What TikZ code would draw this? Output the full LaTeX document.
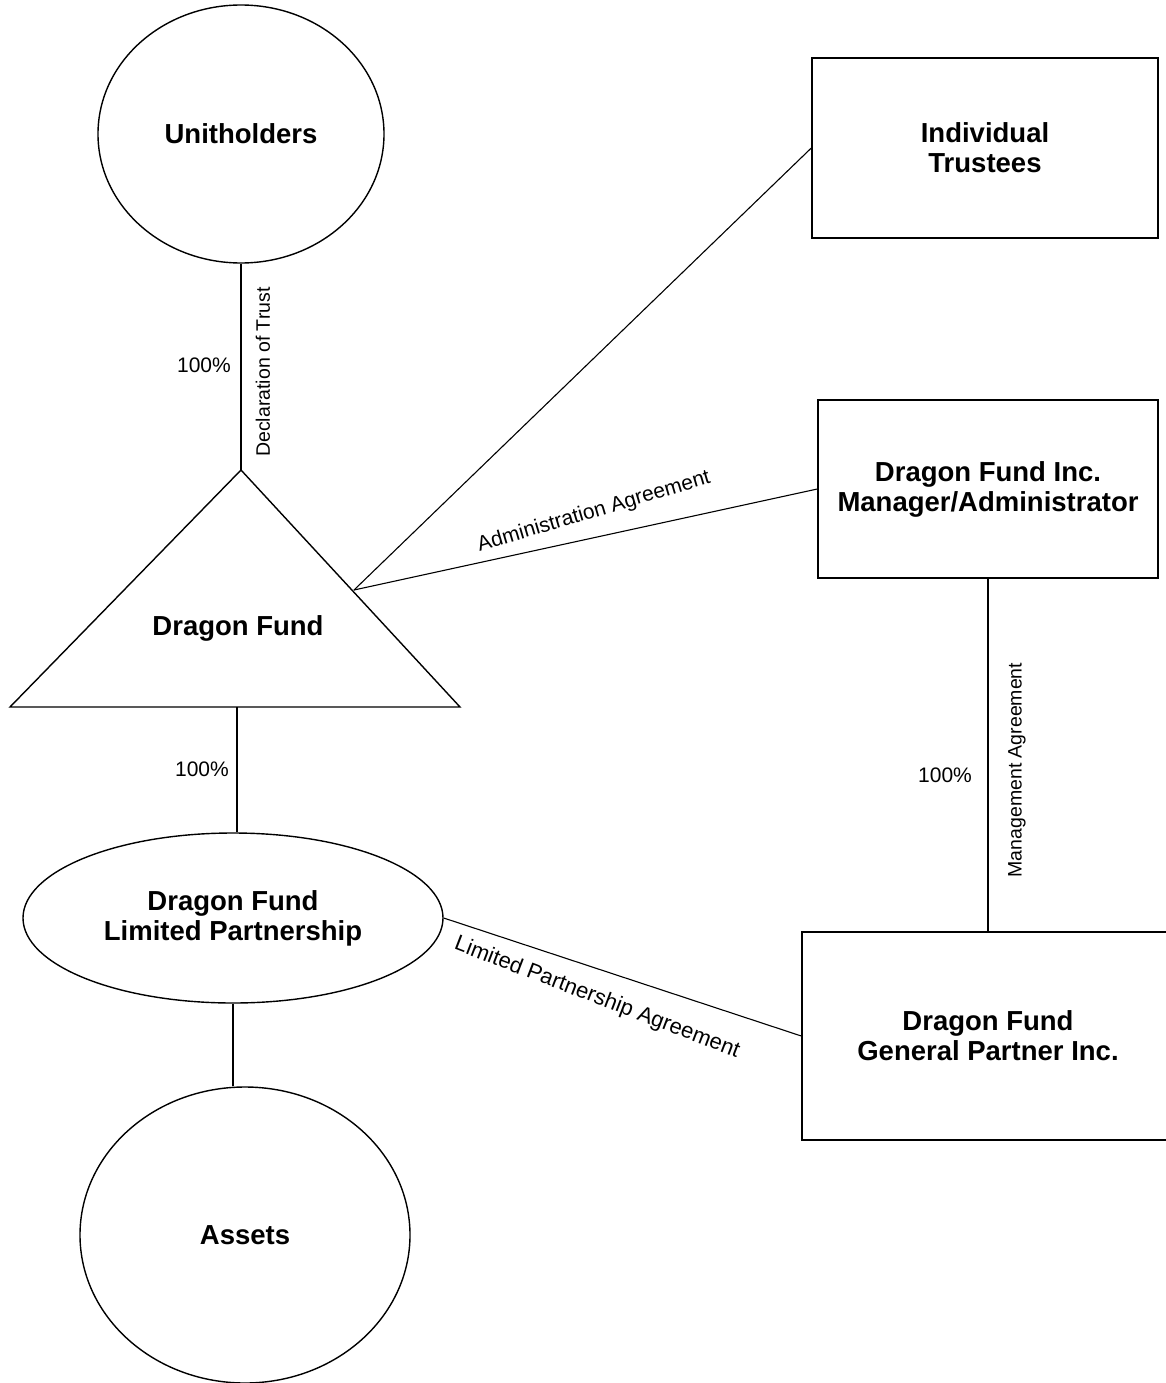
\documentclass[tikz,border=0pt]{standalone}
\usepackage{fontspec}
\setmainfont{Liberation Sans}
\usetikzlibrary{shapes.geometric}
\begin{document}
\begin{tikzpicture}[x=1pt,y=1pt,
  entity/.style={draw,line width=1.4pt,align=center,font=\fontsize{27.5}{30}\selectfont\bfseries},
  boxnode/.style={entity,rectangle,inner sep=0pt},
  ovalnode/.style={entity,ellipse,inner sep=0pt},
  conn/.style={line width=1.1pt},
  lbl/.style={font=\fontsize{21}{24}\selectfont,inner sep=0pt},
  vlbl/.style={font=\fontsize{19.5}{22}\selectfont,inner sep=0pt,rotate=90}]
\useasboundingbox (0,0) rectangle (1165,-1383);
% nodes
\node[ovalnode,minimum width=286,minimum height=258] (U) at (241,-134) {Unitholders};
\node[boxnode,minimum width=346,minimum height=180] (T) at (985,-148) {Individual\\Trustees};
\node[boxnode,minimum width=340,minimum height=178] (M) at (988,-489) {Dragon Fund Inc.\\Manager/Administrator};
\coordinate (apex) at (241,-470);
\coordinate (bl) at (10,-707);
\coordinate (br) at (460,-707);
\draw[line width=1.4pt] (apex) -- (br) -- (bl) -- cycle;
\node[font=\fontsize{27.5}{30}\selectfont\bfseries] (F) at (238,-628) {Dragon Fund};
\coordinate (tri) at (354,-590);
\coordinate (tribase) at (237,-707);
\node[ovalnode,minimum width=420,minimum height=170] (LP) at (233,-918) {Dragon Fund\\Limited Partnership};
\node[ovalnode,minimum width=330,minimum height=296] (A) at (245,-1235) {Assets};
\node[boxnode,minimum width=372,minimum height=208] (GP) at (988,-1036) {Dragon Fund\\General Partner Inc.};
% connectors
\draw[conn] (U.south) -- (apex);
\draw[conn] (tri) -- (T.west);
\draw[conn] (tri) -- (M.west);
\draw[conn] (tribase) -- (tribase |- LP.north);
\draw[conn] (LP.south) -- (LP.south |- A.north);
\draw[conn] (LP.east) -- (GP.west);
\draw[conn] (M.south) -- (M.south |- GP.north);
% labels
\node[vlbl] (l1) at (263,-372) {Declaration of Trust};
\node[lbl] (p1) at (204,-365) {100\%};
\node[lbl,rotate=16.5] (l2) at (594,-512) {Administration Agreement};
\node[lbl] (p2) at (202,-769) {100\%};
\node[font=\fontsize{22}{24}\selectfont,inner sep=0pt,rotate=-21] (l3) at (597,-998) {Limited Partnership Agreement};
\node[vlbl] (l4) at (1017,-770) {Management Agreement};
\node[lbl] (p3) at (945,-775) {100\%};
\end{tikzpicture}
\end{document}
